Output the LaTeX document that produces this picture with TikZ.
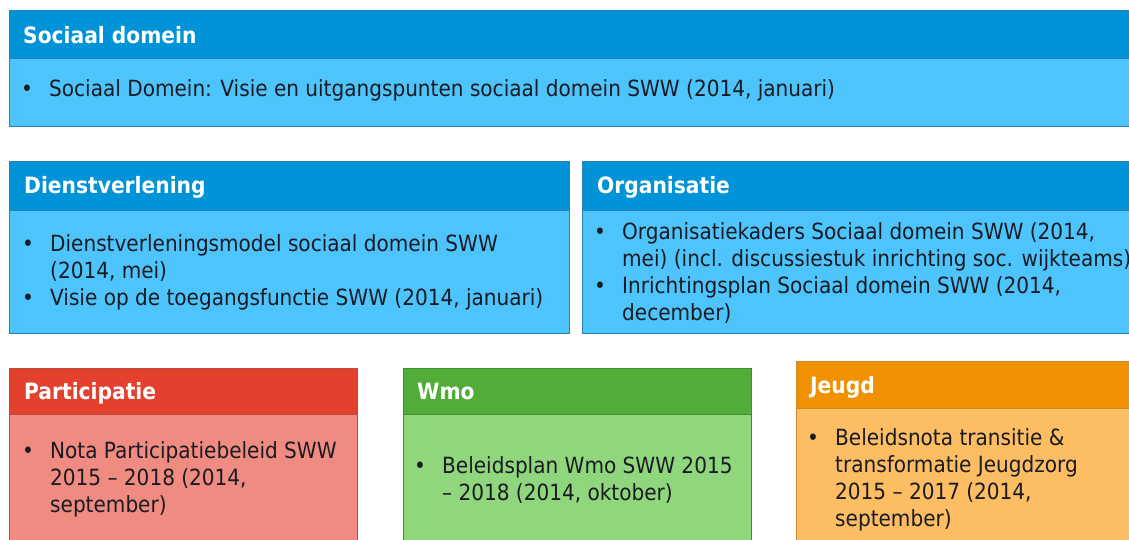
\documentclass[tikz,border=0pt]{standalone}
\usepackage{fontspec}
\setmainfont{DejaVu Sans Condensed}
\definecolor{bluehd}{HTML}{0093D7}
\definecolor{bluebody}{HTML}{4DC4FB}
\definecolor{blueline}{HTML}{2B7FB6}
\definecolor{redhd}{HTML}{E3402D}
\definecolor{redbody}{HTML}{EF8B80}
\definecolor{redline}{HTML}{B84A40}
\definecolor{greenhd}{HTML}{52AD38}
\definecolor{greenbody}{HTML}{8FD67C}
\definecolor{greenline}{HTML}{3F8F2F}
\definecolor{orangehd}{HTML}{EF9100}
\definecolor{orangebody}{HTML}{FCBD63}
\definecolor{orangeline}{HTML}{C98A2A}
\definecolor{ink}{HTML}{1A1A22}
% bullet list set as a top-aligned table, one row per printed line
\newcommand{\bul}{\makebox[28pt][l]{\textbullet}}
\newcommand{\cnt}{\makebox[28pt][l]{}}
\newenvironment{blist}{\begin{tabular}[t]{@{}l@{}}}{\end{tabular}}
\begin{document}
\begin{tikzpicture}[x=1pt,y=-1pt,
  panel/.style n args={4}{draw=#1, line width=1pt, fill=#2, rectangle,
    inner sep=0pt, outer sep=0pt, anchor=north west,
    minimum width=#3, minimum height=#4},
  head/.style={font=\fontsize{22.5}{27}\selectfont\bfseries, text=white,
    anchor=base west, inner sep=0pt},
  body/.style={font=\fontsize{22.3}{27}\selectfont, text=ink,
    anchor=base west, inner sep=0pt}]
\fill[white] (0,0) rectangle (1129,539);
\useasboundingbox (0,0) rectangle (1129,539);

% Sociaal domein
\node[panel={blueline}{bluehd}{1140pt}{48pt}] (sdH) at (9,10) {};
\node[panel={blueline}{bluebody}{1140pt}{68pt}] (sdB) at (sdH.south west) {};
\node[head] (sdT) at (23,43) {Sociaal domein};
\node[body] (sdL) at (21,96) {\begin{blist}
  \bul Sociaal Domein: Visie en uitgangspunten sociaal domein SWW (2014, januari)
\end{blist}};

% Dienstverlening
\node[panel={blueline}{bluehd}{560pt}{49pt}] (dvH) at (9,161) {};
\node[panel={blueline}{bluebody}{560pt}{123pt}] (dvB) at (dvH.south west) {};
\node[head] (dvT) at (24,193) {Dienstverlening};
\node[body] (dvL) at (22,251) {\begin{blist}
  \bul Dienstverleningsmodel sociaal domein SWW\\
  \cnt (2014, mei)\\
  \bul Visie op de toegangsfunctie SWW (2014, januari)
\end{blist}};

% Organisatie
\node[panel={blueline}{bluehd}{560pt}{49pt}] (orH) at (582,161) {};
\node[panel={blueline}{bluebody}{560pt}{123pt}] (orB) at (orH.south west) {};
\node[head] (orT) at (597,193) {Organisatie};
\node[body] (orL) at (594,239) {\begin{blist}
  \bul Organisatiekaders Sociaal domein SWW (2014,\\
  \cnt mei) (incl. discussiestuk inrichting soc. wijkteams)\\
  \bul Inrichtingsplan Sociaal domein SWW (2014,\\
  \cnt december)
\end{blist}};

% Participatie
\node[panel={redline}{redhd}{348pt}{46pt}] (paH) at (9,368) {};
\node[panel={redline}{redbody}{348pt}{140pt}] (paB) at (paH.south west) {};
\node[head] (paT) at (24,399) {Participatie};
\node[body] (paL) at (22,458) {\begin{blist}
  \bul Nota Participatiebeleid SWW\\
  \cnt 2015 -- 2018 (2014,\\
  \cnt september)
\end{blist}};

% Wmo
\node[panel={greenline}{greenhd}{348pt}{46pt}] (wmH) at (403,368) {};
\node[panel={greenline}{greenbody}{348pt}{140pt}] (wmB) at (wmH.south west) {};
\node[head] (wmT) at (417,399) {Wmo};
\node[body] (wmL) at (414,473) {\begin{blist}
  \bul Beleidsplan Wmo SWW 2015\\
  \cnt -- 2018 (2014, oktober)
\end{blist}};

% Jeugd
\node[panel={orangeline}{orangehd}{350pt}{47pt}] (jgH) at (796,361) {};
\node[panel={orangeline}{orangebody}{350pt}{140pt}] (jgB) at (jgH.south west) {};
\node[head] (jgT) at (810,393) {Jeugd};
\node[body] (jgL) at (807,445) {\begin{blist}
  \bul Beleidsnota transitie \&\\
  \cnt transformatie Jeugdzorg\\
  \cnt 2015 -- 2017 (2014,\\
  \cnt september)
\end{blist}};
\end{tikzpicture}
\end{document}
